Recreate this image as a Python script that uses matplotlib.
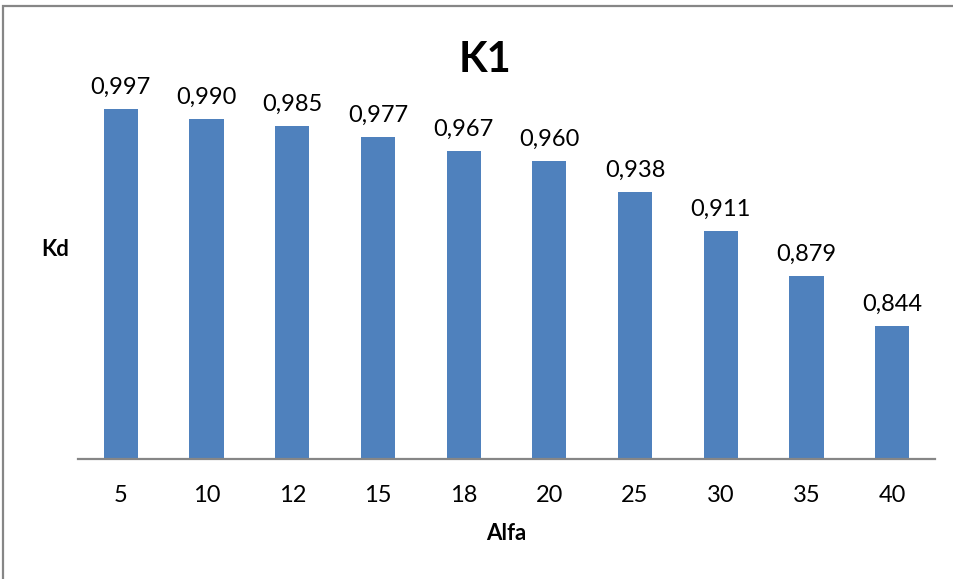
import matplotlib.pyplot as plt
from matplotlib.patches import Rectangle

plt.rcParams['font.family'] = ['Lato', 'DejaVu Sans']

# data
alfa = ['5', '10', '12', '15', '18', '20', '25', '30', '35', '40']
kd = [0.997, 0.990, 0.985, 0.977, 0.967, 0.960, 0.938, 0.911, 0.879, 0.844]
labels = ['0,997', '0,990', '0,985', '0,977', '0,967', '0,960', '0,938', '0,911', '0,879', '0,844']

W, H = 954, 579
fig = plt.figure(figsize=(W / 100, H / 100), dpi=100)

# chart border (only left/top visible in the crop)
fig.patches.append(Rectangle((3.5 / W, -0.1), 1.2, 1 - 5.5 / H + 0.1,
                             transform=fig.transFigure, fill=False,
                             edgecolor='#868686', linewidth=1.6))

ax = fig.add_axes([78 / W, 1 - 459 / H, (935 - 78) / W, (459 - 104.5) / H])

x = range(len(alfa))
ax.bar(x, kd, width=0.4, color='#4F81BD', bottom=0)
ax.set_ylim(0.75, 1.0)
ax.set_xlim(-0.5, len(alfa) - 0.5)

for xi, v, lab in zip(x, kd, labels):
    ax.annotate(lab, (xi, v), xytext=(0, 8), textcoords='offset points',
                ha='center', va='bottom', fontsize=17, color='black')

for s in ['top', 'right', 'left']:
    ax.spines[s].set_visible(False)
ax.spines['bottom'].set_color('#868686')
ax.spines['bottom'].set_linewidth(1.6)
ax.set_yticks([])
ax.set_xticks(list(x))
ax.set_xticklabels(alfa, fontsize=17)
ax.tick_params(axis='x', length=0, pad=19)

ax.set_xlabel('Alfa', fontsize=16, fontweight='bold', labelpad=12)
fig.text(55 / W, 1 - 249 / H, 'Kd', fontsize=16, fontweight='bold',
         ha='center', va='center')
fig.text(485 / W, 1 - 60 / H, 'K1', fontsize=30, fontweight='bold',
         ha='center', va='center')

fig.savefig('out.png', dpi=100)
